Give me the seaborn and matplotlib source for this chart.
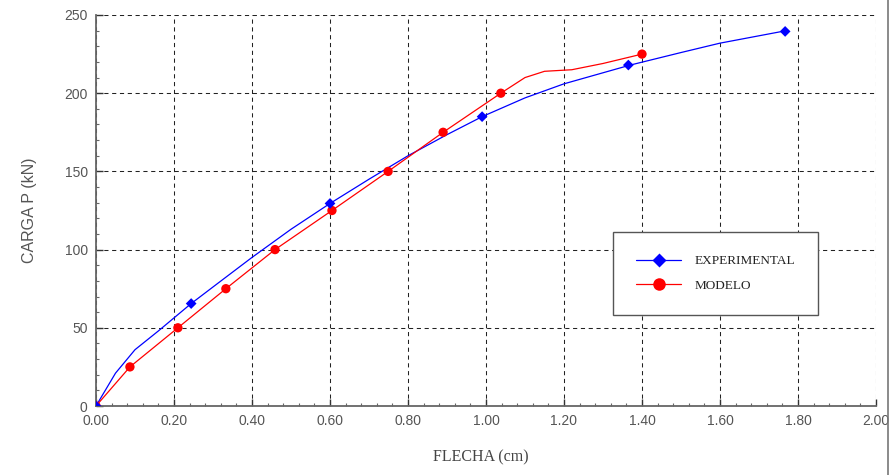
import numpy as np
import pandas as pd
import seaborn as sns
import matplotlib.pyplot as plt
from matplotlib.lines import Line2D
from matplotlib.ticker import MultipleLocator, FormatStrFormatter

# Experimental load-deflection curve (dense) and its marked points
exp_curve_x = [0.00, 0.05, 0.10, 0.16, 0.244, 0.31, 0.40, 0.50, 0.60, 0.70, 0.80, 0.90, 0.99, 1.10, 1.20, 1.37, 1.50, 1.60, 1.77]
exp_curve_y = [0.0, 21.0, 36.0, 48.0, 65.5, 78.0, 95.0, 113.0, 129.5, 145.0, 160.0, 173.5, 185.0, 197.0, 206.0, 218.0, 226.0, 232.0, 240.0]
exp_mark_x = [0.00, 0.244, 0.60, 0.99, 1.365, 1.767]
exp_mark_y = [0.0, 65.5, 129.5, 185.0, 218.0, 239.5]

# Model curve and its marked points
mod_curve_x = [0.00, 0.087, 0.21, 0.333, 0.459, 0.605, 0.749, 0.89, 1.038, 1.10, 1.15, 1.22, 1.30, 1.40]
mod_curve_y = [0.0, 25.0, 50.0, 75.0, 100.0, 125.0, 150.0, 175.0, 200.0, 210.0, 214.0, 215.0, 219.0, 225.0]
mod_mark_x = [0.00, 0.087, 0.21, 0.333, 0.459, 0.605, 0.749, 0.89, 1.038, 1.40]
mod_mark_y = [0.0, 25.0, 50.0, 75.0, 100.0, 125.0, 150.0, 175.0, 200.0, 225.0]

x_ticks = [0.0, 0.2, 0.4, 0.6, 0.8, 1.0, 1.2, 1.4, 1.6, 1.8, 2.0]
y_ticks = [0, 50, 100, 150, 200, 250]

sns.set_theme(style="white")
plt.rcParams['font.family'] = ['Liberation Sans', 'DejaVu Sans']

fig = plt.figure(figsize=(8.95, 4.75), dpi=100)
ax = fig.add_axes([96 / 895, 69 / 475, 780 / 895, 391 / 475])

BLUE = "#0000ff"
RED = "#ff0000"
GREY = "#555555"

exp_curve = pd.DataFrame({"x": exp_curve_x, "y": exp_curve_y})
mod_curve = pd.DataFrame({"x": mod_curve_x, "y": mod_curve_y})
exp_pts = pd.DataFrame({"x": exp_mark_x, "y": exp_mark_y})
mod_pts = pd.DataFrame({"x": mod_mark_x, "y": mod_mark_y})

sns.lineplot(data=exp_curve, x="x", y="y", ax=ax, color=BLUE, lw=0.9, sort=False, zorder=3)
sns.lineplot(data=mod_curve, x="x", y="y", ax=ax, color=RED, lw=0.9, sort=False, zorder=3)
sns.scatterplot(data=mod_pts, x="x", y="y", ax=ax, color=RED, marker="o", s=45,
                edgecolor="none", zorder=4)
sns.scatterplot(data=exp_pts, x="x", y="y", ax=ax, color=BLUE, marker="D", s=30,
                edgecolor="none", zorder=5)

ax.set_xlim(0, 2.0)
ax.set_ylim(0, 250)
ax.set_xticks(x_ticks)
ax.set_yticks(y_ticks)
ax.xaxis.set_major_formatter(FormatStrFormatter("%.2f"))
ax.xaxis.set_minor_locator(MultipleLocator(0.04))
ax.yaxis.set_minor_locator(MultipleLocator(10))
ax.tick_params(axis="both", which="major", direction="in", length=5, width=1,
               color="#333333", labelsize=10, labelcolor=GREY, pad=6)
ax.tick_params(axis="both", which="minor", direction="in", length=2.5, width=0.8,
               color="#666666")
ax.tick_params(axis="both", which="both", left=True, bottom=True)

ax.grid(True, which="major", color="#222222", linestyle=(0, (4, 3.5)), linewidth=0.75)
for side in ("top", "right"):
    ax.spines[side].set_visible(False)
for side in ("left", "bottom"):
    ax.spines[side].set_color("#666666")
    ax.spines[side].set_linewidth(1.3)

ax.set_xlabel("FLECHA (cm)", family=["Liberation Serif"], fontsize=11.5,
              color="#444444", labelpad=13)
ax.set_ylabel("CARGA P (kN)", fontsize=11.5, color=GREY, labelpad=20)
ax.xaxis.set_label_coords(0.493, -0.11)

handles = [
    Line2D([], [], color=BLUE, lw=0.9, marker="D", markersize=7, markeredgecolor="none"),
    Line2D([], [], color=RED, lw=0.9, marker="o", markersize=9, markeredgecolor="none"),
]
leg = ax.legend(handles, ["EXPERIMENTAL", "MODELO"], loc="upper left",
                bbox_to_anchor=((613 - 96) / 780, (406 - 232) / 391),
                frameon=True, fancybox=False, framealpha=1, edgecolor="#555555",
                prop={"family": "Liberation Serif", "size": 9.5},
                handlelength=3.4, handletextpad=1.0, borderpad=1.75,
                labelspacing=0.95, borderaxespad=0)
leg.get_frame().set_linewidth(1.0)
for t in leg.get_texts():
    t.set_color("#222222")

# thin frame line on the right edge of the picture
fig.add_artist(Line2D([888 / 895, 888 / 895], [0.0, 1.0], color="#777777", lw=1.2))

fig.savefig("out.png", dpi=100, facecolor="white")
